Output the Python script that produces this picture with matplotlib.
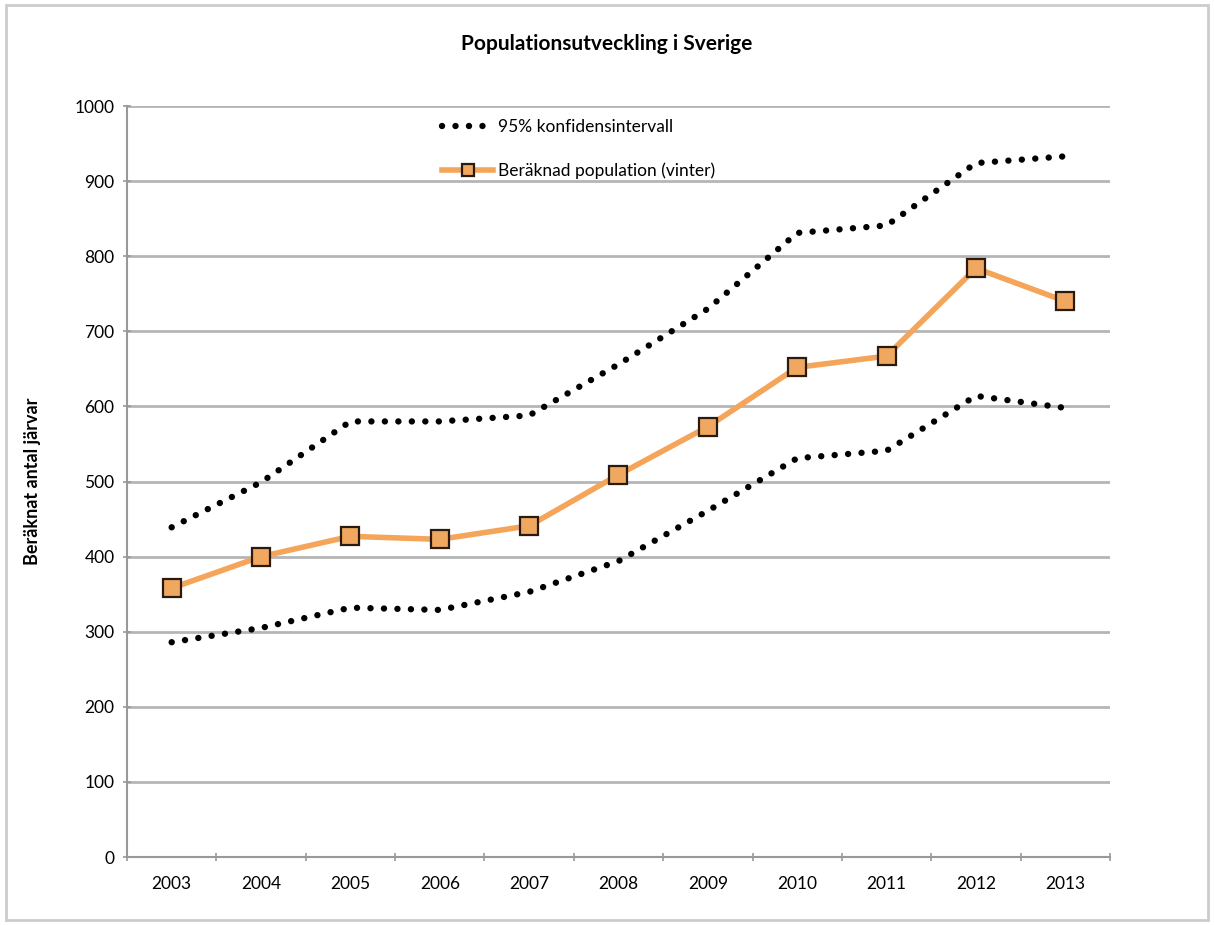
import matplotlib.pyplot as plt
import numpy as np

years = ['2003', '2004', '2005', '2006', '2007', '2008', '2009', '2010', '2011', '2012', '2013']
population = [358, 400, 427, 423, 441, 509, 573, 652, 667, 784, 740]
upper = [439, 499, 580, 580, 588, 656, 730, 831, 841, 924, 933]
lower = [286, 305, 332, 329, 353, 394, 461, 531, 541, 614, 598]

plt.rcParams['font.family'] = ['Lato', 'DejaVu Sans']

fig = plt.figure(figsize=(12.14, 9.25), dpi=100)
ax = fig.add_axes([0.1046, 0.0735, 0.8097, 0.8119])

x = np.arange(len(years))

dots = (0, (0.01, 2.1))
ax.plot(x, upper, color='black', linestyle=dots, linewidth=4.6,
        dash_capstyle='round', label='95% konfidensintervall')
ax.plot(x, lower, color='black', linestyle=dots, linewidth=4.6,
        dash_capstyle='round')
ax.plot(x, population, color='#f5a55a', linewidth=4, marker='s', markersize=12.5,
        markerfacecolor='#f0a860', markeredgecolor='#2a1a10', markeredgewidth=1.6,
        label='Beräknad population (vinter)')

ax.set_xlim(-0.5, len(years) - 0.5)
ax.set_ylim(0, 1000)
ax.set_yticks(range(0, 1001, 100))
ax.set_xticks(x)
ax.set_xticklabels(years)
ax.set_xticks(np.arange(-0.5, len(years)), minor=True)
ax.tick_params(axis='x', which='major', length=0, pad=14, labelsize=12.5)
ax.tick_params(axis='x', which='minor', length=6, color='#999999', width=1.2, direction='inout')
ax.tick_params(axis='y', length=6, color='#999999', width=1.2, direction='inout', labelsize=12.5, pad=6)

ax.grid(axis='y', color='#b5b5b5', linewidth=2)
ax.set_axisbelow(True)
for s in ['top', 'right']:
    ax.spines[s].set_visible(False)
for s in ['left', 'bottom']:
    ax.spines[s].set_color('#999999')
    ax.spines[s].set_linewidth(1.5)

ax.set_ylabel('Beräknat antal järvar', fontsize=13, fontweight='bold', labelpad=24)
fig.text(0.5, 0.952, 'Populationsutveckling i Sverige', ha='center', va='center',
         fontsize=15, fontweight='bold')

ax.legend(loc='upper left', bbox_to_anchor=(0.305, 1.003), frameon=False, fontsize=12.5,
          handlelength=2.9, handletextpad=0.3, labelspacing=1.55, markerscale=0.65)

fig.patches.append(plt.Rectangle((0.005, 0.005), 0.99, 0.99, transform=fig.transFigure,
                                 fill=False, edgecolor='#cccccc', linewidth=2))

fig.savefig('out.png', dpi=100)
